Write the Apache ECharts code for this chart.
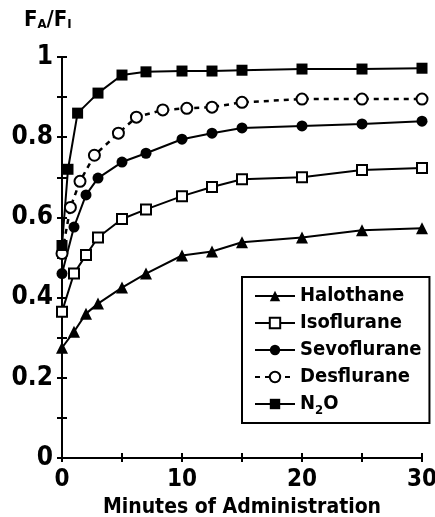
<!DOCTYPE html>
<html>
<head>
<meta charset="utf-8">
<script src="https://cdn.jsdelivr.net/npm/echarts@6/dist/echarts.min.js"></script>
<style>
  html, body { margin: 0; padding: 0; background: #fff; }
  #main { width: 435px; height: 517px; }
</style>
</head>
<body>
<div id="main"></div>
<script>
// 时间点（分钟）
var minutes = [0, 1, 2, 3, 5, 7, 10, 12.5, 15, 20, 25, 30];
var desMinutes = [0, 0.7, 1.5, 2.7, 4.7, 6.2, 8.4, 10.4, 12.5, 15, 20, 25, 30];
var n2oMinutes = [0, 0.5, 1.3, 3, 5, 7, 10, 12.5, 15, 20, 25, 30];

// FA/FI 数值
var halothane = [0.275, 0.315, 0.36, 0.385, 0.425, 0.46, 0.505, 0.515, 0.538, 0.55, 0.568, 0.573];
var isoflurane = [0.365, 0.46, 0.506, 0.55, 0.596, 0.62, 0.653, 0.676, 0.695, 0.70, 0.718, 0.723];
var sevoflurane = [0.46, 0.576, 0.656, 0.698, 0.738, 0.76, 0.795, 0.81, 0.823, 0.828, 0.833, 0.84];
var desflurane = [0.51, 0.625, 0.69, 0.755, 0.81, 0.85, 0.868, 0.872, 0.875, 0.887, 0.895, 0.895, 0.895];
var n2o = [0.53, 0.72, 0.86, 0.91, 0.955, 0.963, 0.965, 0.965, 0.967, 0.97, 0.97, 0.972];

var xTicks = [0, 10, 20, 30];
var yTicks = [0, 0.2, 0.4, 0.6, 0.8, 1];

var FONT = '"DejaVu Sans Condensed", "Liberation Sans Narrow", "Liberation Sans", sans-serif';

function zip(xs, ys) {
    return xs.map(function (x, i) { return [x, ys[i]]; });
}

var myChart = echarts.init(document.getElementById('main'));

var axisCommonX = {
    type: 'value',
    min: 0,
    max: 30,
    interval: 5,
    splitLine: { show: false },
    axisLine: { show: true, lineStyle: { color: '#000', width: 2 } }
};
var axisCommonY = {
    type: 'value',
    min: 0,
    max: 1,
    interval: 0.1,
    splitLine: { show: false },
    axisLine: { show: true, lineStyle: { color: '#000', width: 2 } }
};

var line = { color: '#000', width: 2 };

var option = {
    backgroundColor: '#fff',
    animation: false,
    textStyle: { fontFamily: FONT },
    grid: { left: 62, right: 13, top: 57, bottom: 59, outerBoundsMode: 'none', containLabel: false },
    graphic: [{
        type: 'text',
        left: 24,
        top: 9,
        style: {
            text: '{b|F}{s|A}{b|/F}{s|I}',
            rich: {
                b: { fontSize: 22, fontFamily: FONT, fontWeight: 'bold', fill: '#000', verticalAlign: 'bottom' },
                s: { fontSize: 13, fontFamily: FONT, fontWeight: 'bold', fill: '#000', verticalAlign: 'bottom' }
            }
        }
    }],
    legend: {
        orient: 'vertical',
        left: 242,
        top: 277,
        padding: [6, 8, 6, 12],
        borderColor: '#000',
        borderWidth: 2,
        itemWidth: 40,
        itemHeight: 13,
        itemGap: 1,
        data: ['Halothane', 'Isoflurane', 'Sevoflurane', 'Desflurane', 'N2O'],
        formatter: function (name) {
            return name === 'N2O' ? 'N{sub|2}O' : name;
        },
        textStyle: {
            color: '#000',
            fontSize: 20,
            lineHeight: 26,
            fontWeight: 'bold',
            fontFamily: FONT,
            rich: {
                sub: { fontSize: 13, fontWeight: 'bold', fontFamily: FONT, verticalAlign: 'bottom', lineHeight: 26 }
            }
        }
    },
    xAxis: [
        Object.assign({}, axisCommonX, {
            name: 'Minutes of Administration',
            nameLocation: 'middle',
            nameGap: 39,
            nameTextStyle: { color: '#000', fontSize: 21, fontWeight: 'bold', fontFamily: FONT },
            axisTick: { show: true, inside: false, length: 4, lineStyle: { color: '#000', width: 2 } },
            axisLabel: {
                color: '#000', fontSize: 24, fontWeight: 'bold', fontFamily: FONT, margin: 10,
                formatter: function (v) { return xTicks.indexOf(v) >= 0 ? String(v) : ''; }
            }
        }),
        Object.assign({}, axisCommonX, {
            position: 'bottom',
            axisLine: { show: false },
            axisTick: { show: true, inside: true, length: 5, lineStyle: { color: '#000', width: 2 } },
            axisLabel: { show: false }
        })
    ],
    yAxis: [
        Object.assign({}, axisCommonY, {
            axisTick: { show: true, inside: false, length: 5, lineStyle: { color: '#000', width: 2 } },
            axisLabel: {
                color: '#000', fontSize: 26, fontWeight: 'bold', fontFamily: FONT, margin: 9,
                formatter: function (v) {
                    var r = +v.toFixed(1);
                    return yTicks.indexOf(r) >= 0 ? String(r) : '';
                }
            }
        }),
        Object.assign({}, axisCommonY, {
            position: 'left',
            axisLine: { show: false },
            axisTick: { show: true, inside: true, length: 5, lineStyle: { color: '#000', width: 2 } },
            axisLabel: { show: false }
        })
    ],
    series: [
        {
            name: 'Halothane',
            type: 'line',
            data: zip(minutes, halothane),
            symbol: 'triangle',
            symbolSize: 12,
            lineStyle: line,
            itemStyle: { color: '#000' }
        },
        {
            name: 'Isoflurane',
            type: 'line',
            data: zip(minutes, isoflurane),
            symbol: 'rect',
            symbolSize: 10,
            lineStyle: line,
            itemStyle: { color: '#fff', borderColor: '#000', borderWidth: 2 }
        },
        {
            name: 'Sevoflurane',
            type: 'line',
            data: zip(minutes, sevoflurane),
            symbol: 'circle',
            symbolSize: 11,
            lineStyle: line,
            itemStyle: { color: '#000' }
        },
        {
            name: 'Desflurane',
            type: 'line',
            data: zip(desMinutes, desflurane),
            symbol: 'circle',
            symbolSize: 11,
            lineStyle: { color: '#000', width: 2.5, type: [5, 5] },
            itemStyle: { color: '#fff', borderColor: '#000', borderWidth: 2 }
        },
        {
            name: 'N2O',
            type: 'line',
            data: zip(n2oMinutes, n2o),
            symbol: 'rect',
            symbolSize: 11,
            lineStyle: line,
            itemStyle: { color: '#000' }
        }
    ]
};

myChart.setOption(option);
</script>
</body>
</html>
